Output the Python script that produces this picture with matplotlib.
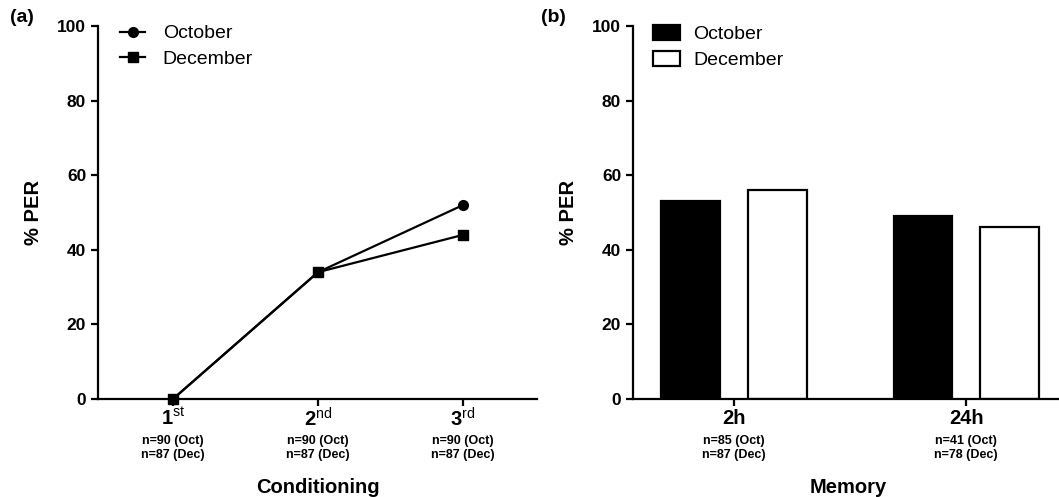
import numpy as np
import matplotlib.pyplot as plt

plt.rcParams['font.family'] = ['Liberation Sans', 'DejaVu Sans']
plt.rcParams['mathtext.fontset'] = 'custom'
plt.rcParams['mathtext.rm'] = 'Liberation Sans'
plt.rcParams['mathtext.bf'] = 'Liberation Sans:bold'

# Panel (a): acquisition
trials = [r'$\mathbf{1}^{\mathrm{st}}$', r'$\mathbf{2}^{\mathrm{nd}}$', r'$\mathbf{3}^{\mathrm{rd}}$']
n_trials = [('n=90 (Oct)', 'n=87 (Dec)')] * 3
oct_cond = [0, 34, 52]
dec_cond = [0, 34, 44]

# Panel (b): memory
memory = ['2h', '24h']
n_memory = [('n=85 (Oct)', 'n=87 (Dec)'), ('n=41 (Oct)', 'n=78 (Dec)')]
oct_mem = [53, 49]
dec_mem = [56, 46]

fig = plt.figure(figsize=(10.59, 4.97), dpi=100)
bottom, top = 1 - 399 / 497, 1 - 26 / 497
ax1 = fig.add_axes([98 / 1059, bottom, 439 / 1059, top - bottom])
ax2 = fig.add_axes([633 / 1059, bottom, 440 / 1059, top - bottom])

lw = 1.6


def style(ax):
    for s in ['top', 'right']:
        ax.spines[s].set_visible(False)
    for s in ['left', 'bottom']:
        ax.spines[s].set_linewidth(lw)
    ax.set_ylim(0, 100)
    ax.set_yticks([0, 20, 40, 60, 80, 100])
    ax.tick_params(width=lw, length=5, labelsize=12.5)
    for t in ax.get_yticklabels():
        t.set_fontweight('bold')
    ax.set_ylabel('% PER', fontsize=14.5, fontweight='bold', labelpad=10)


# (a)
x = np.arange(1, 4)
ax1.plot(x, oct_cond, '-o', color='black', lw=lw, ms=7, label='October', clip_on=False, zorder=3)
ax1.plot(x, dec_cond, '-s', color='black', lw=lw, ms=7, label='December', clip_on=False, zorder=3)
ax1.set_xlim(0.483, 3.51)
ax1.set_xticks(x)
ax1.set_xticklabels(trials)
style(ax1)
ax1.tick_params(axis='x', labelsize=14.5, pad=1)
ax1.legend(loc='upper left', bbox_to_anchor=(0.01, 1.05), frameon=False, fontsize=14,
           handlelength=1.3, handletextpad=0.9, labelspacing=0.4)
tr = ax1.get_xaxis_transform()
for xi, (a, b) in zip(x, n_trials):
    ax1.text(xi, -0.112, a, transform=tr, ha='center', va='center', fontsize=9, fontweight='bold')
    ax1.text(xi, -0.150, b, transform=tr, ha='center', va='center', fontsize=9, fontweight='bold')
ax1.text(0.5, -0.236, 'Conditioning', transform=ax1.transAxes, ha='center', va='center',
         fontsize=14.5, fontweight='bold')

# (b)
xb = np.arange(len(memory))
w = 0.254
off = 0.186
ax2.bar(xb - off, oct_mem, w, color='black', edgecolor='black', lw=lw, label='October')
ax2.bar(xb + off, dec_mem, w, color='white', edgecolor='black', lw=lw, label='December')
ax2.set_xlim(-0.435, 1.46)
ax2.set_xticks(xb)
ax2.set_xticklabels(memory, fontweight='bold')
style(ax2)
ax2.tick_params(axis='x', labelsize=14.5, pad=2)
ax2.legend(loc='upper left', bbox_to_anchor=(0.005, 1.05), frameon=False, fontsize=14,
           handlelength=1.4, handleheight=0.8, handletextpad=0.7, labelspacing=0.4)
tr = ax2.get_xaxis_transform()
for xi, (a, b) in zip(xb, n_memory):
    ax2.text(xi, -0.112, a, transform=tr, ha='center', va='center', fontsize=9, fontweight='bold')
    ax2.text(xi, -0.150, b, transform=tr, ha='center', va='center', fontsize=9, fontweight='bold')
ax2.text((848 - 633) / 440, -0.236, 'Memory', transform=ax2.transAxes, ha='center', va='center',
         fontsize=14.5, fontweight='bold')

fig.text(10 / 1059, 1 - 18 / 497, '(a)', fontsize=14, fontweight='bold', va='center')
fig.text(541 / 1059, 1 - 18 / 497, '(b)', fontsize=14, fontweight='bold', va='center')

fig.savefig('out.png', dpi=100)
